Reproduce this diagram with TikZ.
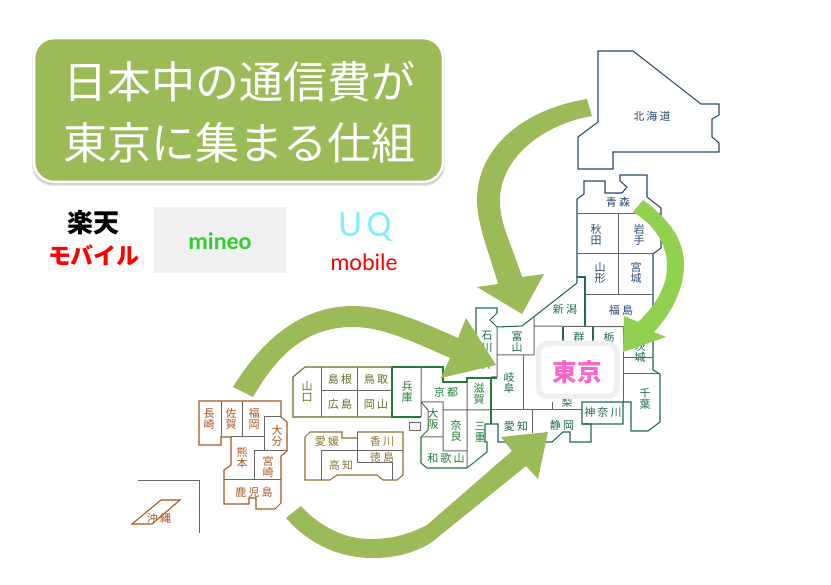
\documentclass[tikz,border=0pt]{standalone}
\usepackage{fontspec}
\setmainfont{Noto Sans CJK JP}
\newfontfamily\jp{Noto Sans CJK JP}
\newfontfamily\mapf[LetterSpace=20]{Noto Sans CJK JP}
\newfontfamily\lat{Carlito}
\newfontfamily\latw[LetterSpace=12]{Carlito}
\definecolor{agreen}{HTML}{9BBB59}
\definecolor{lgreen}{HTML}{92D050}
\definecolor{cgray}{HTML}{666666}
\definecolor{ctoh}{HTML}{2B4A6F}
\definecolor{cchu}{HTML}{1F6A52}
\definecolor{ckin}{HTML}{237A38}
\definecolor{cchg}{HTML}{5E6F22}
\definecolor{cshi}{HTML}{8A7530}
\definecolor{ckyu}{HTML}{A9551F}
\tikzset{
  lbl/.style={font=\fontsize{11}{11.5}\selectfont\mapf,align=center,inner sep=0pt},
  toh/.style={lbl,text=ctoh}, chu/.style={lbl,text=cchu}, kin/.style={lbl,text=ckin},
  chg/.style={lbl,text=cchg}, shi/.style={lbl,text=cshi}, kyu/.style={lbl,text=ckyu},
  inl/.style={draw=cgray,line width=1pt},
  outl/.style={line width=1.05pt,line join=miter},
  bigarrow/.style={fill=agreen,draw=none},
  shadowbox/.style={rounded corners=20pt,fill=black,fill opacity=0.09},
}
\begin{document}
\begin{tikzpicture}[x=1pt,y=-1pt]
\useasboundingbox (0,0) rectangle (831,585);
% title
\fill[shadowbox] (32,38) rectangle (445,186);
\fill[shadowbox] (33,38) rectangle (444,185);
\fill[shadowbox] (33,38) rectangle (444,184);
\draw[draw=white,fill=agreen,line width=2.6pt,rounded corners=20pt] (34,38) rectangle (443,182);
\node[text=white,font=\fontsize{44}{60.5}\selectfont\jp,align=center,inner sep=0pt] (title) at (239.5,112) {日本中の通信費が\\東京に集まる仕組};
% brands
\node[font=\fontsize{26}{26}\selectfont\jp\bfseries,inner sep=0pt] (raku) at (93.5,223) {楽天};
\node[font=\fontsize{23}{23}\selectfont\jp\bfseries,text=red,inner sep=0pt] (moba) at (94,255) {モバイル};
\node[fill=black!6,minimum width=132pt,minimum height=66pt,inner sep=0pt] (mineobox) at (220,240) {};
\node[font=\fontsize{24}{24}\selectfont\lat\bfseries,text={rgb,255:red,51;green,204;blue,51},inner sep=0pt] (mineo) at (220,241) {mineo};
\node[font=\fontsize{37}{37}\selectfont\latw,text={rgb,255:red,127;green,239;blue,255},inner sep=0pt] (uq) at (365,227) {UQ};
\node[font=\fontsize{24}{24}\selectfont\lat,text=red,inner sep=0pt] (mobile) at (364,262) {mobile};
% Hokkaido / Tohoku
\draw[outl,draw=ctoh] (598,51) -- (633,51) -- (701,104) -- (719,104) -- (719,115) -- (712,119) -- (712,137) -- (719,143) -- (719,152) -- (613,152) -- (613,169) -- (578,169) -- (578,137) -- (598,122) -- cycle;
\draw[outl,draw=ctoh] (577,283) -- (577,199) -- (584,194) -- (584,181) -- (605,181) -- (605,193) -- (622,193) -- (627,187) -- (620,181) -- (620,175) -- (647,175) -- (647,197) -- (661,208) -- (661,248) -- (653,254) -- (653,327);
\draw[inl] (577,214) -- (661,214) (618,214) -- (618,295) (577,254) -- (653,254) (585,295) -- (653,295);
% Chubu/Kanto outline
\draw[outl,draw=cchu] (577,277) -- (585,277) -- (585,326);
\draw[outl,draw=cchu] (577,283) -- (522,326) -- (497,327) -- (490,320) -- (497,313) -- (497,308) -- (476,308) -- (476,340);
\draw[inl] (497,327) -- (497,377) -- (491,377) (497,355) -- (534,355) (534,317) -- (534,355) (534,326) -- (653,327);
\draw[inl] (523,355) -- (523,410) (491,410) -- (582,410) (532,410) -- (532,433) (552,402) -- (552,410);
\draw[outl,draw=cchu] (563,327) -- (563,342) (593,327) -- (593,342);
\draw[inl] (623,327) -- (623,402) (623,358) -- (653,358) (623,374) -- (660,374);
\draw[outl,draw=cchu] (653,327) -- (653,370) -- (660,374) -- (660,422) -- (648,431) -- (631,431) -- (631,402) -- (582,402) -- (582,424) -- (623,424) -- (623,402);
\draw[outl,draw=cchu] (582,424) -- (591,424) -- (591,442) -- (570,442) -- (570,432) -- (563,432) -- (552,442) -- (498,442) -- (498,424) -- (485,424);
% Kinki
\draw[outl,draw=ckin] (392,367) -- (443,367) -- (443,382) -- (467,382) -- (467,378) -- (497,378);
\draw[outl,draw=ckin] (421,417) -- (392,417) -- (392,367);
\draw[outl,draw=ckin] (428,430) -- (421,437) -- (421,463) -- (427,468) -- (467,468) -- (487,452) -- (487,442) -- (485,442) -- (485,424);
\draw[outl,draw=ckin] (491,378) -- (491,424);
\draw[inl] (421,367) -- (421,417) (421,402) -- (443,402) -- (443,451) -- (467,451) (421,402) -- (428,410) -- (428,430) (421,437) -- (443,437) (443,410) -- (491,410) (467,378) -- (467,468);
\draw[inl] (409,423) rectangle (420,431);
% Chugoku
\draw[outl,draw=cchg] (392,367) -- (305,367) -- (293,377) -- (293,417) -- (392,417);
\draw[inl] (321,367) -- (321,417) (357,367) -- (357,417) (321,391) -- (392,391);
% Shikoku
\draw[outl,draw=cshi] (357,432) -- (403,432) -- (403,475) -- (397,480) -- (383,480) -- (377,475) -- (337,475) -- (330,480) -- (305,480) -- (305,437) -- (310,432) -- (342,432) -- (342,438) -- (357,438);
\draw[inl] (321,480) -- (321,451) -- (403,451) (357,432) -- (357,463) -- (392,463) -- (392,480);
% Kyushu
\draw[outl,draw=ckyu] (199,401) -- (281,401) -- (281,417) -- (287,422) -- (287,451) -- (281,456) -- (281,503) -- (275,509) -- (256,509) -- (256,498) -- (249,498) -- (249,504) -- (224,504) -- (224,470) -- (231,465) -- (231,437) -- (221,437) -- (221,445) -- (199,445) -- cycle;
\draw[inl] (221,401) -- (221,437) (242,401) -- (242,437) (231,437) -- (264,437) (264,417) -- (281,417) (264,417) -- (264,451) (254,451) -- (287,451) (254,451) -- (254,480) (224,480) -- (281,480);
% Okinawa
\draw[inl] (138,481) -- (199,481) -- (199,533);
\draw[outl,draw=ckyu] (161,500) -- (180,500) -- (152,524) -- (132,524) -- cycle;
% labels
\node[toh] (hok) at (652,116) {北海道};
\node[toh] (aom) at (618,202) {青森};
\node[toh] (aki) at (596,235) {秋\\田};
\node[toh] (iwa) at (639,235) {岩\\手};
\node[toh] (yma) at (600,273) {山\\形};
\node[toh] (miy) at (636,273) {宮\\城};
\node[toh] (fuk) at (621,310) {福島};
\node[chu] (nii) at (565,309) {新潟};
\node[chu] (gun) at (579,337) {群};
\node[chu] (toc) at (609,337) {栃};
\node[chu] (iba) at (640,352) {茨\\城};
\node[chu] (chb) at (645,399) {千\\葉};
\node[chu] (kan) at (603,412) {神奈川};
\node[chu] (shz) at (562,425) {静岡};
\node[chu] (aic) at (516,426) {愛知};
\node[chu] (tym) at (517,342) {富\\山};
\node[chu] (ish) at (487,342) {石\\川};
\node[chu] (fki) at (487,364) {井};
\node[chu] (gif) at (509,383) {岐\\阜};
\node[chu] (ynn) at (567,402) {梨};
\node[kin] (shi) at (479,394) {滋\\賀};
\node[kin] (mie) at (480,432) {三\\重};
\node[kin] (nar) at (456,431) {奈\\良};
\node[kin] (wak) at (446,458) {和歌山};
\node[kin] (osa) at (433,419) {大\\阪};
\node[kin] (kyo) at (446,392) {京都};
\node[kin] (hyo) at (407,392) {兵\\庫};
\node[chg] (ymg) at (307,392) {山\\口};
\node[chg] (shm) at (340,379) {島根};
\node[chg] (ttr) at (376,379) {鳥取};
\node[chg] (hir) at (340,404) {広島};
\node[chg] (oky) at (376,404) {岡山};
\node[shi] (ehi) at (327,441) {愛媛};
\node[shi] (kag) at (382,441) {香川};
\node[shi] (tok) at (382,457) {徳島};
\node[shi] (koc) at (341,465) {高知};
\node[kyu] (nag) at (209,419) {長\\崎};
\node[kyu] (sag) at (231,419) {佐\\賀};
\node[kyu] (fko) at (254,419) {福\\岡};
\node[kyu] (oit) at (277,436) {大\\分};
\node[kyu] (kum) at (242,458) {熊\\本};
\node[kyu] (myz) at (268,467) {宮\\崎};
\node[kyu] (kgs) at (254,492) {鹿児島};
\node[kyu] (oki) at (159,518) {沖縄};
% arrows
\fill[bigarrow] (587,99) .. controls (520,110) and (477,150) .. (477,200) .. controls (477,225) and (490,255) .. (498,284) -- (477,287) -- (522,314) -- (544,274) -- (522,277) .. controls (510,240) and (500,225) .. (500,200) .. controls (500,160) and (540,125) .. (592,116) -- cycle;
\fill[lgreen] (643,200) .. controls (670,220) and (684,240) .. (684,265) .. controls (684,290) and (670,315) .. (654,332) -- (666,337) -- (623,352) -- (624,316) -- (638,322) .. controls (658,303) and (667,285) .. (667,265) .. controls (667,245) and (655,225) .. (633,212) -- cycle;
\fill[bigarrow] (233,387) .. controls (265,335) and (305,306) .. (353,306) .. controls (385,306) and (420,321) .. (458,338) -- (466,318) -- (496,365) -- (441,378) -- (450,358) .. controls (420,345) and (385,327) .. (353,327) .. controls (310,327) and (280,350) .. (253,397) -- cycle;
\fill[bigarrow] (286,518) .. controls (310,545) and (340,558) .. (373,558) .. controls (395,558) and (415,553) .. (432,542) -- (526,466) -- (538,479) -- (548,432) -- (501,437) -- (512,451) -- (427,525) .. controls (408,535) and (390,539) .. (370,539) .. controls (345,539) and (320,527) .. (301,506) -- cycle;
% Tokyo
\node[draw=black!6,fill=white,line width=5.5pt,rounded corners=9pt,minimum width=78pt,minimum height=53pt,inner sep=0pt] (tkbox) at (577.5,370) {};
\node[font=\fontsize{24.5}{25}\selectfont\jp\bfseries,text={rgb,255:red,255;green,102;blue,204},inner sep=0pt] (tokyo) at (577,372) {東京};
\end{tikzpicture}
\end{document}
